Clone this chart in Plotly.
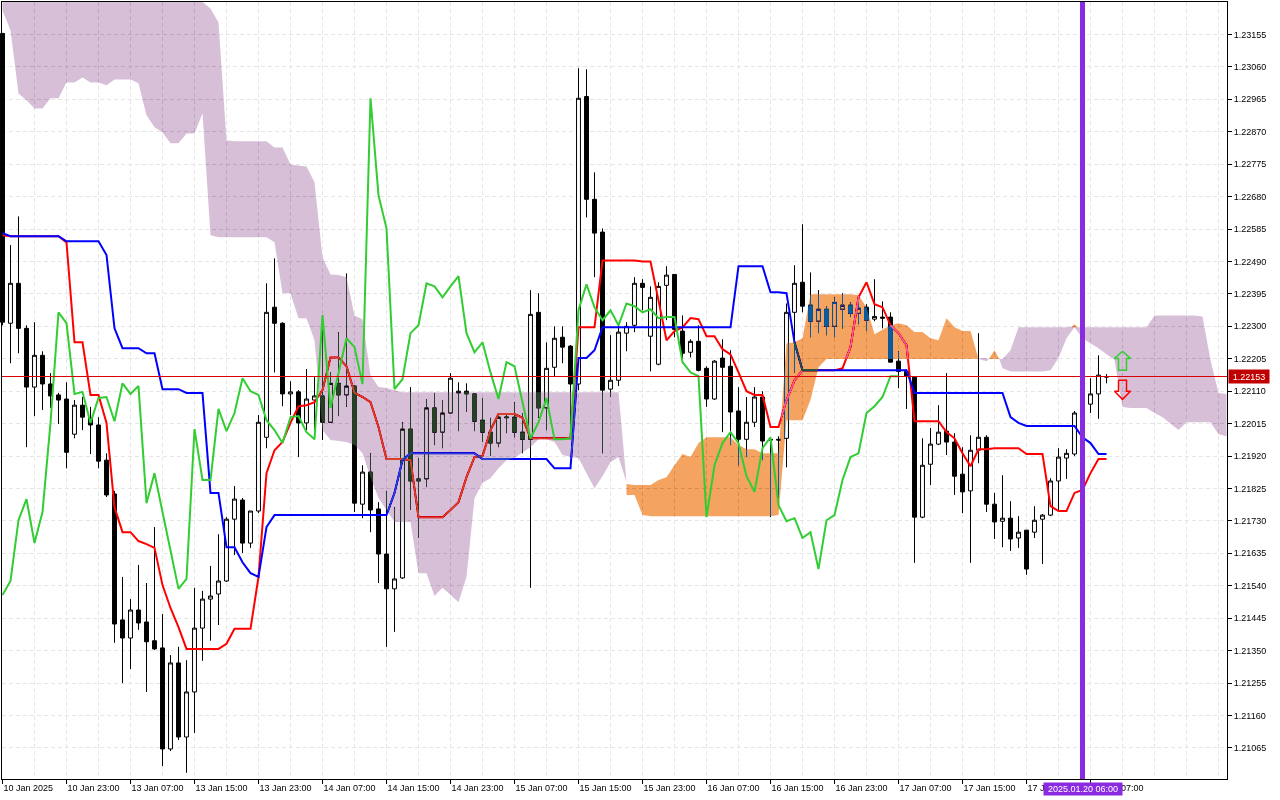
"""H1 GBPUSD-style candles with Ichimoku lines and cloud, terminal look. Writes out.html."""
import plotly.graph_objects as go

opens = [1.23158,1.22309,1.22426,1.22294,1.22122,1.22215,1.22131,1.22099,1.22087,1.21984,
         1.22069,1.22032,1.22011,1.21908,1.21809,1.21440,1.21387,1.21469,1.21434,1.21379,
         1.21358,1.21062,1.21314,1.21097,1.21229,1.21416,1.21501,1.21516,1.21554,1.21735,
         1.21791,1.21665,1.21759,1.21975,1.22356,1.22309,1.22102,1.22108,1.22017,1.22084,
         1.22096,1.22019,1.22133,1.22099,1.22125,1.21779,1.21873,1.21765,1.21633,1.21531,
         1.21563,1.21999,1.21853,1.21853,1.22061,1.21990,1.22046,1.22105,1.22110,1.22102,
         1.22025,1.21990,1.21958,1.22032,1.22034,1.21990,1.21969,1.22341,1.22061,1.22180,
         1.22268,1.22242,1.22131,1.22973,1.22672,1.22576,1.22116,1.22142,1.22280,1.22303,
         1.22426,1.22271,1.22189,1.22420,1.22452,1.22286,1.22224,1.22256,1.22177,1.22087,
         1.22207,1.22183,1.22052,1.21969,1.22019,1.22093,1.21969,1.21969,1.21972,1.22341,
         1.22429,1.22362,1.22315,1.22350,1.22300,1.22350,1.22362,1.22338,1.22356,1.22321,
         1.22327,1.22327,1.22198,1.22168,1.22151,1.21741,1.21896,1.21955,1.21993,1.21961,
         1.21867,1.21818,1.21937,1.21975,1.21779,1.21729,1.21738,1.21680,1.21703,1.21697,
         1.21735,1.21747,1.21847,1.21914,1.21926,1.22046,1.22072,1.22102,1.22151]
highs = [1.23158,1.22538,1.22622,1.22303,1.22312,1.22227,1.22163,1.22105,1.22136,1.22084,
         1.22093,1.22064,1.22034,1.21928,1.21818,1.21566,1.21501,1.21601,1.21548,1.21712,
         1.21457,1.21337,1.21361,1.21322,1.21534,1.21525,1.21598,1.21691,1.21741,1.21832,
         1.21797,1.21759,1.22040,1.22426,1.22499,1.22312,1.22139,1.22113,1.22175,1.22151,
         1.22332,1.22165,1.22283,1.22455,1.22128,1.21893,1.21928,1.21785,1.21818,1.21770,
         1.22019,1.22122,1.21914,1.22087,1.22105,1.22084,1.22163,1.22136,1.22133,1.22102,
         1.22090,1.22032,1.22040,1.22040,1.22078,1.22046,1.22406,1.22397,1.22253,1.22300,
         1.22300,1.22245,1.23056,1.23053,1.22751,1.22587,1.22274,1.22303,1.22312,1.22444,
         1.22438,1.22417,1.22429,1.22476,1.22452,1.22332,1.22262,1.22303,1.22183,1.22201,
         1.22262,1.22230,1.22122,1.22093,1.22122,1.22110,1.21972,1.21978,1.22367,1.22479,
         1.22599,1.22458,1.22406,1.22359,1.22385,1.22397,1.22370,1.22385,1.22365,1.22438,
         1.22373,1.22341,1.22227,1.22175,1.22154,1.21972,1.22002,1.22069,1.22163,1.21987,
         1.21946,1.21981,1.22280,1.21981,1.21812,1.21864,1.21788,1.21744,1.21703,1.21773,
         1.21750,1.21855,1.21943,1.21940,1.22052,1.22084,1.22148,1.22215,1.22160]
lows = [1.22303,1.22192,1.22221,1.21946,1.22037,1.22055,1.22061,1.22014,1.21884,1.21972,
        1.21996,1.21926,1.21884,1.21800,1.21373,1.21255,1.21296,1.21411,1.21229,1.21352,
        1.21012,1.21056,1.21088,1.20992,1.21109,1.21320,1.21379,1.21425,1.21551,1.21630,
        1.21636,1.21651,1.21753,1.21943,1.22165,1.22066,1.22040,1.21917,1.21996,1.21996,
        1.21967,1.22017,1.22037,1.22064,1.21756,1.21738,1.21697,1.21548,1.21361,1.21405,
        1.21560,1.21762,1.21680,1.21829,1.21952,1.21943,1.22043,1.21993,1.22049,1.21993,
        1.21961,1.21920,1.21946,1.21987,1.21975,1.21928,1.21534,1.22032,1.21996,1.22154,
        1.22192,1.21981,1.22113,1.22619,1.22444,1.21928,1.22093,1.22125,1.22227,1.22283,
        1.22347,1.22168,1.22186,1.22318,1.22268,1.22192,1.22209,1.22168,1.22064,1.22084,
        1.21990,1.21952,1.21893,1.21917,1.22005,1.21908,1.21741,1.21797,1.21887,1.22165,
        1.22341,1.22268,1.22280,1.22274,1.22268,1.22294,1.22327,1.22306,1.22286,1.22315,
        1.22294,1.22195,1.22119,1.22058,1.21607,1.21738,1.21835,1.21952,1.21923,1.21806,
        1.21753,1.21607,1.21899,1.21756,1.21677,1.21653,1.21642,1.21651,1.21572,1.21680,
        1.21604,1.21744,1.21762,1.21853,1.21920,1.22037,1.22046,1.22029,1.22133]
closes = [1.22312,1.22426,1.22294,1.22122,1.22215,1.22131,1.22096,1.22084,1.21931,1.22069,
          1.22034,1.22011,1.21905,1.21806,1.21428,1.21387,1.21469,1.21431,1.21376,1.21355,
          1.21062,1.21314,1.21097,1.21229,1.21416,1.21501,1.21510,1.21554,1.21735,1.21794,
          1.21665,1.21759,1.22019,1.22341,1.22309,1.22102,1.22108,1.22017,1.22087,1.22096,
          1.22019,1.22133,1.22099,1.22125,1.21782,1.21873,1.21762,1.21633,1.21531,1.21560,
          1.21999,1.21847,1.21847,1.22061,1.21990,1.22046,1.22148,1.22110,1.22102,1.22022,
          1.21990,1.21958,1.22034,1.22034,1.21990,1.21969,1.22335,1.22061,1.22177,1.22265,
          1.22239,1.22131,1.22968,1.22672,1.22573,1.22113,1.22142,1.22283,1.22300,1.22426,
          1.22414,1.22385,1.22417,1.22450,1.22291,1.22221,1.22256,1.22171,1.22087,1.22198,
          1.22180,1.22049,1.21969,1.22019,1.22093,1.21964,1.21967,1.21967,1.22341,1.22426,
          1.22359,1.22315,1.22350,1.22300,1.22370,1.22362,1.22338,1.22353,1.22318,1.22329,
          1.22324,1.22195,1.22168,1.22154,1.21741,1.21893,1.21955,1.21990,1.21961,1.21861,
          1.21815,1.21937,1.21975,1.21779,1.21727,1.21738,1.21677,1.21697,1.21589,1.21732,
          1.21747,1.21847,1.21917,1.21928,1.22046,1.22072,1.22102,1.22157,1.22153]

kijun = [1.22573,1.22564,1.22564,1.22564,1.22564,1.22564,1.22564,1.22564,1.22549,1.22549,
         1.22549,1.22549,1.22549,1.22509,1.22294,1.22236,1.22236,1.22236,1.22221,1.22221,
         1.22116,1.22116,1.22116,1.22105,1.22105,1.22105,1.21812,1.21812,1.21653,1.21653,
         1.21609,1.21577,1.21566,1.21712,1.21747,1.21747,1.21747,1.21747,1.21747,1.21747,
         1.21747,1.21747,1.21747,1.21747,1.21747,1.21747,1.21747,1.21747,1.21747,1.21812,
         1.21908,1.21928,1.21928,1.21928,1.21928,1.21928,1.21928,1.21928,1.21928,1.21928,
         1.21911,1.21911,1.21911,1.21911,1.21911,1.21911,1.21911,1.21911,1.21911,1.21884,
         1.21884,1.21884,1.22207,1.22207,1.22230,1.22297,1.22297,1.22297,1.22297,1.22297,
         1.22297,1.22297,1.22297,1.22297,1.22297,1.22297,1.22297,1.22297,1.22297,1.22297,
         1.22297,1.22297,1.22476,1.22476,1.22476,1.22476,1.22400,1.22400,1.22397,1.22253,
         1.22171,1.22171,1.22171,1.22171,1.22171,1.22171,1.22171,1.22171,1.22171,1.22171,
         1.22171,1.22171,1.22171,1.22171,1.22105,1.22105,1.22105,1.22105,1.22105,1.22105,
         1.22105,1.22105,1.22105,1.22105,1.22105,1.22105,1.22034,1.22017,1.22008,1.22008,
         1.22008,1.22008,1.22008,1.22008,1.22008,1.21975,1.21958,1.21926,1.21926]
tenkan = [1.22567,1.22564,1.22564,1.22564,1.22564,1.22564,1.22564,1.22564,1.22546,1.22253,
          1.22253,1.22099,1.22099,1.22017,1.21770,1.21697,1.21697,1.21671,1.21662,1.21651,
          1.21542,1.21475,1.21419,1.21355,1.21355,1.21355,1.21355,1.21355,1.21370,1.21414,
          1.21414,1.21414,1.21566,1.21870,1.21937,1.21961,1.22017,1.22066,1.22069,1.22078,
          1.22113,1.22209,1.22209,1.22183,1.22105,1.22093,1.22078,1.22005,1.21911,1.21911,
          1.21911,1.21908,1.21741,1.21741,1.21741,1.21741,1.21762,1.21785,1.21858,1.21917,
          1.21920,1.21996,1.22043,1.22043,1.22043,1.22032,1.21972,1.21972,1.21972,1.21972,
          1.21972,1.21972,1.22297,1.22297,1.22297,1.22493,1.22493,1.22493,1.22493,1.22493,
          1.22490,1.22490,1.22376,1.22259,1.22286,1.22297,1.22324,1.22321,1.22271,1.22271,
          1.22233,1.22218,1.22165,1.22110,1.22099,1.22099,1.22005,1.22005,1.22084,1.22142,
          1.22171,1.22171,1.22171,1.22171,1.22171,1.22177,1.22239,1.22385,1.22429,1.22365,
          1.22356,1.22303,1.22280,1.22245,1.22022,1.22022,1.22022,1.22022,1.21990,1.21972,
          1.21928,1.21890,1.21940,1.21940,1.21943,1.21943,1.21943,1.21943,1.21926,1.21926,
          1.21926,1.21773,1.21759,1.21759,1.21812,1.21821,1.21870,1.21911,1.21911]
chikou = [1.21513,1.21554,1.21732,1.21794,1.21665,1.21756,1.22017,1.22341,1.22309,1.22102,
          1.22108,1.22017,1.22090,1.22093,1.22022,1.22133,1.22102,1.22125,1.21782,1.21870,
          1.21756,1.21645,1.21531,1.21560,1.21999,1.21850,1.21850,1.22058,1.21993,1.22046,
          1.22148,1.22110,1.22099,1.22025,1.21996,1.21958,1.22034,1.22037,1.21990,1.21969,
          1.22332,1.22061,1.22163,1.22265,1.22239,1.22131,1.22968,1.22684,1.22587,1.22116,
          1.22145,1.22280,1.22303,1.22426,1.22417,1.22385,1.22417,1.22447,1.22280,1.22224,
          1.22253,1.22165,1.22087,1.22195,1.22183,1.22075,1.21972,1.22019,1.22090,1.21969,
          1.21969,1.21972,1.22347,1.22423,1.22356,1.22318,1.22347,1.22303,1.22367,1.22359,
          1.22341,1.22350,1.22324,1.22327,1.22327,1.22195,1.22165,1.22154,1.21741,1.21893,
          1.21958,1.21990,1.21958,1.21861,1.21815,1.21943,1.21975,1.21776,1.21729,1.21738,
          1.21680,1.21697,1.21589,1.21732,1.21747,1.21850,1.21917,1.21928,1.22046,1.22066,
          1.22093,1.22154,1.22154]

# cloud pieces, split where the two spans cross
cloud_a_top = [1.23250]*26 + [1.23231,1.23190,1.22845,1.22842,1.22842,1.22842,1.22842,1.22842,1.22824,1.22824,
               1.22774,1.22771,1.22768,1.22722,1.22502,1.22452,1.22450,1.22444,1.22332,1.22321,
               1.22157,1.22122,1.22119,1.22113] + [1.22107]*28 + [1.21844]
cloud_a_bot = [1.23225,1.23167,1.22982,1.22962,1.22938,1.22938,1.22968,1.22968,1.23014,1.23014,
               1.23029,1.23014,1.23014,1.23006,1.23023,1.23023,1.23023,1.23012,1.22918,1.22883,
               1.22868,1.22836,1.22836,1.22865,1.22865,1.22924,1.22567,1.22561,1.22561,1.22561,
               1.22561,1.22561,1.22561,1.22561,1.22546,1.22397,1.22397,1.22324,1.22324,1.22259,
               1.21996,1.21967,1.21964,1.21961,1.21952,1.21928,1.21858,1.21797,1.21762,1.21727,
               1.21727,1.21727,1.21577,1.21577,1.21510,1.21534,1.21513,1.21492,1.21566,1.21797,
               1.21841,1.21855,1.21884,1.21908,1.21914,1.21931,1.21946,1.21969,1.21969,1.21961,
               1.21923,1.21917,1.21914,1.21870,1.21826,1.21861,1.21902,1.21917,1.21844]
cloud_b_top = [1.21838,1.21835,1.21835,1.21835,1.21850,1.21858,1.21893,1.21926,1.21917,1.21958,
               1.21975,1.21975,1.21975,1.21975,1.21952,1.21940,1.21940,1.21928,1.21928,1.21928,
               1.22250,1.22253,1.22265,1.22394,1.22394,1.22394,1.22394,1.22394,1.22394,1.22391,
               1.22356,1.22277,1.22291,1.22303,1.22309,1.22303,1.22283,1.22283,1.22265,1.22259,
               1.22324,1.22297,1.22286,1.22286,1.22205]
cloud_b_bot = [1.21806,1.21806,1.21747,1.21744,1.21744,1.21744,1.21744,1.21744,1.21744,1.21744,
               1.21744,1.21744,1.21744,1.21744,1.21744,1.21744,1.21744,1.21744,1.21744,1.21747,
               1.22025,1.22025,1.22025,1.22084,1.22180,1.22204,1.22204,1.22204,1.22204,1.22204,
               1.22204,1.22204,1.22204,1.22204,1.22204,1.22204,1.22204,1.22204,1.22204,1.22204,
               1.22204,1.22204,1.22204,1.22204,1.22205]
cloud_c_x = [122,123,123.3]
cloud_c_top = [1.22207,1.22207,1.22204]
cloud_c_bot = [1.22204,1.22198,1.22204]
cloud_d_x = [123.3,124,124.6]
cloud_d_top = [1.22204,1.22230,1.22204]
cloud_d_bot = [1.22204,1.22204,1.22204]
cloud_e_x = [124.6,125,126,127,128,129,130,131,132,133,134]
cloud_e_top = [1.22204,1.22204,1.22230,1.22297,1.22297,1.22297,1.22297,1.22297,1.22297,1.22297,1.22300]
cloud_e_bot = [1.22204,1.22177,1.22168,1.22168,1.22168,1.22168,1.22168,1.22171,1.22207,1.22265,1.22297]
cloud_f_x = [133.6,134,134.4]
cloud_f_top = [1.22297,1.22306,1.22297]
cloud_f_bot = [1.22297,1.22297,1.22297]
cloud_g_top = [1.22297,1.22297,1.22297,1.22297,1.22297,1.22297,1.22297,1.22297,1.22297,1.22297,
               1.22332,1.22332,1.22332,1.22332,1.22332,1.22332,1.22329,1.22201,1.22105,1.22102]
cloud_g_bot = [1.22297,1.22265,1.22250,1.22236,1.22218,1.22201,1.22064,1.22061,1.22061,1.22061,
               1.22046,1.22034,1.22014,1.21996,1.22019,1.22019,1.22019,1.22019,1.21984,1.21978]

# arrows next to the last bar, drawn as outlines (bar index, price)
arrow_up_x = [140,141,140.5,140.5,139.5,139.5,139,140]
arrow_up_y = [1.22227,1.22206,1.22206,1.22171,1.22171,1.22206,1.22206,1.22227]
arrow_dn_x = [139.5,140.5,140.5,141,140,139,139.5,139.5]
arrow_dn_y = [1.22142,1.22142,1.22110,1.22110,1.22086,1.22110,1.22110,1.22142]

bid = 1.22153
marker_bar = 135
marker_text = "2025.01.20 06:00"
x_ticks = list(range(0, 137, 8))
x_labels = ["10 Jan 2025","10 Jan 23:00","13 Jan 07:00","13 Jan 15:00","13 Jan 23:00","14 Jan 07:00",
            "14 Jan 15:00","14 Jan 23:00","15 Jan 07:00","15 Jan 15:00","15 Jan 23:00","16 Jan 07:00",
            "16 Jan 15:00","16 Jan 23:00","17 Jan 07:00","17 Jan 15:00","17 Jan 23:00","20 Jan 07:00"]
y_ticks = [1.21065,1.21160,1.21255,1.21350,1.21445,1.21540,1.21635,1.21730,1.21825,1.21920,1.22015,1.22110,
           1.22205,1.22300,1.22395,1.22490,1.22585,1.22680,1.22775,1.22870,1.22965,1.23060,1.23155]

THISTLE, SANDY = "#274027", "#0b5b9f"   # painted in difference mode, so they show inverted on white
FONT = "Liberation Sans"
bars = list(range(len(opens)))

def line(y, color):
    return go.Scatter(x=bars[:len(y)], y=y, mode="lines", line=dict(color=color, width=2), cliponaxis=False)

def cloud(x, top, bot, color):
    return go.Scatter(x=list(x) + list(x)[::-1], y=top + bot[::-1], mode="lines", fill="toself", fillcolor=color,
                      line=dict(width=0), cliponaxis=False, hoverinfo="skip")

fig = go.Figure()
fig.add_trace(go.Candlestick(x=bars, open=opens, high=highs, low=lows, close=closes, whiskerwidth=0,
                             increasing=dict(line=dict(color="black", width=1), fillcolor="white"),
                             decreasing=dict(line=dict(color="black", width=1), fillcolor="black")))
fig.add_trace(line(tenkan, "#ff0000"))
fig.add_trace(line(kijun, "#0000ff"))
fig.add_trace(cloud(range(79), cloud_a_top, cloud_a_bot, THISTLE))
fig.add_trace(cloud(range(78, 123), cloud_b_top, cloud_b_bot, SANDY))
fig.add_trace(cloud(cloud_c_x, cloud_c_top, cloud_c_bot, THISTLE))
fig.add_trace(cloud(cloud_d_x, cloud_d_top, cloud_d_bot, SANDY))
fig.add_trace(cloud(cloud_e_x, cloud_e_top, cloud_e_bot, THISTLE))
fig.add_trace(cloud(cloud_f_x, cloud_f_top, cloud_f_bot, SANDY))
fig.add_trace(cloud(range(134, 154), cloud_g_top, cloud_g_bot, THISTLE))
fig.add_trace(line(chikou, "#32cd32"))
fig.add_trace(go.Scatter(x=arrow_up_x, y=arrow_up_y, mode="lines", line=dict(color="#32cd32", width=1.5), cliponaxis=False))
fig.add_trace(go.Scatter(x=arrow_dn_x, y=arrow_dn_y, mode="lines", line=dict(color="#ff0000", width=1.5), cliponaxis=False))

grid = dict(showgrid=True, gridcolor="#e6e6e6", gridwidth=1, griddash="4px,3px")
x_range = [-0.0625, 153.0625]   # half a pixel over so one-pixel wicks land on whole pixels
fig.update_layout(
    width=1280, height=800, margin=dict(l=2, r=53, t=2, b=21), showlegend=False,
    paper_bgcolor="white", plot_bgcolor="white", font=dict(family=FONT, size=9, color="black"),
    xaxis=dict(range=x_range, rangeslider_visible=False, tickmode="array", tickvals=x_ticks, ticktext=x_labels,
               ticks="outside", ticklen=4, tickcolor="black", ticklabelposition="outside right",
               showline=True, linecolor="black", linewidth=1, mirror=True, zeroline=False,
               minor=dict(tickvals=list(range(0, 154, 4)), ticks="", **grid), **grid),
    yaxis=dict(range=[1.20974, 1.23250], side="right", tickmode="array", tickvals=y_ticks, tickformat=".5f",
               ticks="outside", ticklen=4, tickcolor="black",
               showline=True, linecolor="black", linewidth=1, mirror=True, zeroline=False, **grid),
    shapes=[dict(type="line", xref="x", yref="y", x0=x_range[0], x1=x_range[1], y0=bid, y1=bid,
                 line=dict(color="#d80000", width=1)),
            dict(type="line", xref="x", yref="paper", x0=marker_bar, x1=marker_bar, y0=0, y1=1,
                 line=dict(color="#8a2be2", width=5))],
    annotations=[dict(xref="paper", yref="y", x=1, y=bid, xanchor="left", xshift=1, text=f"{bid:.5f}", showarrow=False,
                      bgcolor="#c00000", font=dict(color="white", size=9), width=40, height=13, borderpad=0),
                 dict(xref="x", yref="paper", x=marker_bar, y=0, yanchor="top", yshift=-3, text=marker_text, showarrow=False,
                      bgcolor="#8a2be2", font=dict(color="white", size=9), width=78, height=12, borderpad=0)])

# the terminal paints the cloud with an inverting brush: candles and lines underneath change colour.
# ancestors of the fills must not form an isolated group or the white page would not show through
post = ("document.body.style.margin='0';"
        "document.querySelectorAll('.js-fill').forEach(function(p){"
        "p.style.mixBlendMode='difference';"
        "for(var n=p.parentNode;n&&n.tagName!='svg';n=n.parentNode){"
        "n.removeAttribute('clip-path');n.style.clipPath='none';n.style.opacity='';n.style.isolation='auto';}"
        "});")
fig.write_html("out.html", post_script=post, config=dict(displayModeBar=False))
